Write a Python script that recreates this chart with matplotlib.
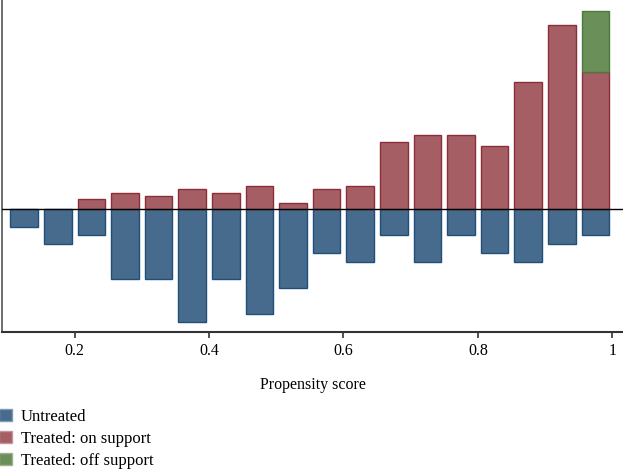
import matplotlib
matplotlib.use("Agg")
import matplotlib.pyplot as plt
from matplotlib.patches import Patch

plt.rcParams['font.family'] = ['Liberation Serif', 'DejaVu Serif']

# propensity score bins (width 0.05), bin centres
bin_centres = [0.125, 0.175, 0.225, 0.275, 0.325, 0.375, 0.425, 0.475, 0.525,
               0.575, 0.625, 0.675, 0.725, 0.775, 0.825, 0.875, 0.925, 0.975]
# counts
untreated = [2, 4, 3, 8, 8, 13, 8, 12, 9, 5, 6, 3, 6, 3, 5, 6, 4, 3]
treated_on = [0, 0, 3, 5, 4, 6, 5, 7, 2, 6, 7, 20, 22, 22, 19, 38, 55, 41]
treated_off = [0, 0, 0, 0, 0, 0, 0, 0, 0, 0, 0, 0, 0, 0, 0, 0, 0, 18]
bin_w = 0.05

n_u = sum(untreated)
n_t = sum(treated_on) + sum(treated_off)
dens_u = [c / (n_u * bin_w) for c in untreated]
dens_on = [c / (n_t * bin_w) for c in treated_on]
dens_off = [c / (n_t * bin_w) for c in treated_off]

c_blue, e_blue = '#476b8d', '#1f4f78'
c_red, e_red = '#a65e65', '#8c2d3a'
c_green, e_green = '#6b8f59', '#4b7a3a'

fig = plt.figure(figsize=(6.23, 4.70), dpi=100)
ax = fig.add_axes([2/623, 138/470, 621/623, 332/470])

w = 0.041
# only draw bins that have something in them (empty bars would leave edge lines)
xs = [x for x, d in zip(bin_centres, dens_u) if d > 0]
ax.bar(xs, [-d for d in dens_u if d > 0], width=w, color=c_blue, edgecolor=e_blue, linewidth=1)
xs = [x for x, d in zip(bin_centres, dens_on) if d > 0]
ax.bar(xs, [d for d in dens_on if d > 0], width=w, color=c_red, edgecolor=e_red, linewidth=1)
off = [(x, d, b) for x, d, b in zip(bin_centres, dens_off, dens_on) if d > 0]
ax.bar([o[0] for o in off], [o[1] for o in off], width=w, bottom=[o[2] for o in off],
       color=c_green, edgecolor=e_green, linewidth=1)
ax.axhline(0, color='black', linewidth=1, zorder=3)

ax.set_xlim(0.092, 1.016)
ax.set_ylim(-2.611, 4.453)
ax.set_yticks([])
ax.set_xticks([0.2, 0.4, 0.6, 0.8, 1.0])
ax.set_xticklabels(['0.2', '0.4', '0.6', '0.8', '1'], fontsize=11.5)
ax.tick_params(axis='x', length=4, width=1.2, color='#333333', pad=4)
ax.spines['top'].set_visible(False)
ax.spines['right'].set_visible(False)
ax.spines['left'].set_color('#555555')
ax.spines['left'].set_linewidth(1.2)
ax.spines['bottom'].set_color('#333333')
ax.spines['bottom'].set_linewidth(1.5)
ax.set_xlabel('Propensity score', fontsize=11.5, labelpad=13)

handles = [Patch(facecolor=c_blue, edgecolor='#7f9bb5'),
           Patch(facecolor=c_red, edgecolor='#c4969b'),
           Patch(facecolor=c_green, edgecolor='#9bb38d')]
fig.legend(handles, ['Untreated', 'Treated: on support', 'Treated: off support'],
           loc='upper left', bbox_to_anchor=(-0.012, 1 - 402/470), frameon=False,
           fontsize=12, handlelength=0.75, handleheight=0.75, handletextpad=0.55,
           labelspacing=0.36, borderaxespad=0)

fig.savefig('out.png', dpi=100)
